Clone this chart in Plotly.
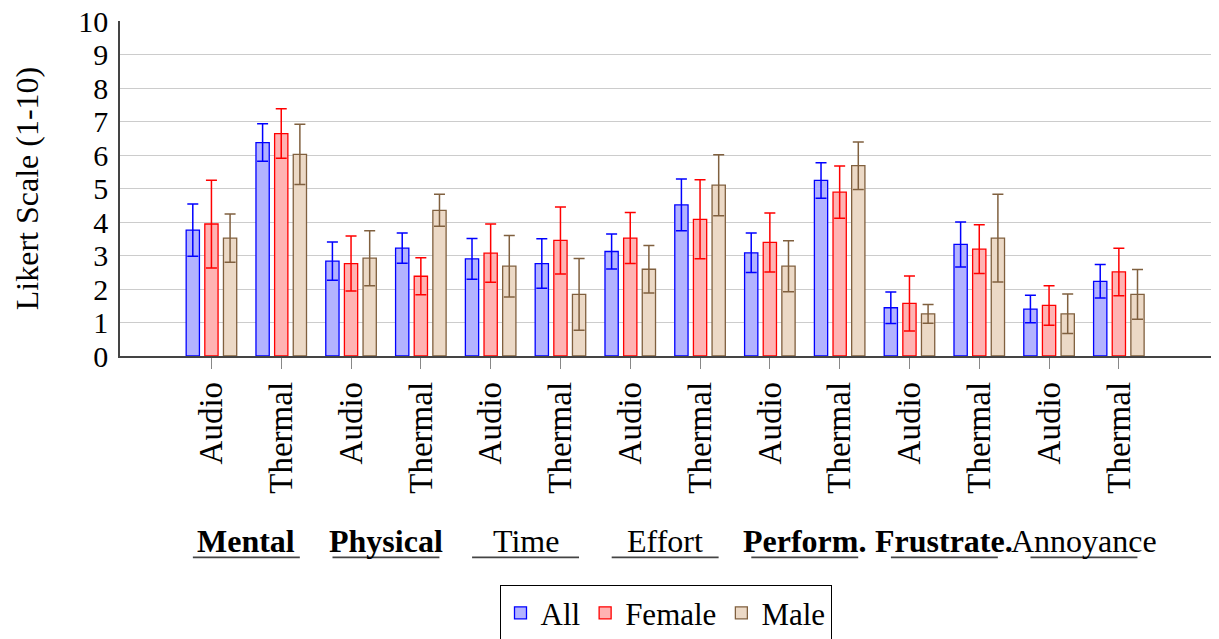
import plotly.graph_objects as go

# Conditions (x tick labels) and the workload dimensions they belong to
conditions = ["Audio", "Thermal"] * 7
dimensions = ["Mental", "Physical", "Time", "Effort", "Perform.", "Frustrate.", "Annoyance"]
bold_dims = {"Mental", "Physical", "Perform.", "Frustrate."}

# Mean ratings per condition (Likert 1-10)
all_mean = [3.76, 6.37, 2.83, 3.22, 2.90, 2.76, 3.12, 4.51, 3.08, 5.24, 1.44, 3.33, 1.40, 2.23]
female_mean = [3.94, 6.64, 2.76, 2.38, 3.07, 3.45, 3.52, 4.08, 3.39, 4.89, 1.57, 3.19, 1.51, 2.51]
male_mean = [3.52, 6.02, 2.92, 4.35, 2.68, 1.84, 2.59, 5.10, 2.68, 5.68, 1.26, 3.52, 1.26, 1.84]

# Error bar half-widths
all_err = [0.78, 0.56, 0.57, 0.45, 0.61, 0.74, 0.52, 0.77, 0.59, 0.53, 0.47, 0.67, 0.41, 0.50]
female_err = [1.31, 0.74, 0.82, 0.55, 0.87, 1.00, 0.76, 1.18, 0.88, 0.78, 0.82, 0.73, 0.59, 0.71]
male_err = [0.72, 0.90, 0.82, 0.48, 0.92, 1.07, 0.71, 0.91, 0.76, 0.71, 0.28, 1.31, 0.59, 0.74]

positions = list(range(len(conditions)))

series = [
    ("All", all_mean, all_err, "#b3b3ff", "#0000ff", -0.267),
    ("Female", female_mean, female_err, "#ffb3b3", "#ff0000", 0.0),
    ("Male", male_mean, male_err, "#ecd9c6", "#80603f", 0.267),
]

BAR_W = 0.19
SERIF = "Liberation Serif, Times New Roman, serif"

fig = go.Figure()
for name, mean, err, fill, edge, shift in series:
    fig.add_trace(go.Bar(
        name=name,
        x=positions,
        y=mean,
        width=BAR_W,
        offset=shift - BAR_W / 2,
        marker=dict(color=fill, line=dict(color=edge, width=1.3)),
        error_y=dict(type="data", array=err, visible=True,
                     color=edge, thickness=1.5, width=5.5),
    ))

# Dimension labels under each Audio/Thermal pair, with an underline
for i, dim in enumerate(dimensions):
    center = 2 * i + 0.5
    label = f"<b>{dim}</b>" if dim in bold_dims else dim
    fig.add_annotation(
        x=center, xref="x", y=-0.553, yref="paper",
        text=label, showarrow=False,
        font=dict(family=SERIF, size=32, color="black"),
        xanchor="center", yanchor="middle",
    )
    fig.add_shape(
        type="line", xref="x", yref="paper",
        x0=center - 0.766, x1=center + 0.766, y0=-0.601, y1=-0.601,
        line=dict(color="#444444", width=1.6),
    )

fig.update_layout(
    width=1219, height=639,
    margin=dict(l=120, r=8, t=21, b=283, autoexpand=False),
    plot_bgcolor="white", paper_bgcolor="white",
    barmode="overlay",
    font=dict(family=SERIF, color="black"),
    showlegend=True,
    legend=dict(
        orientation="h",
        x=0.5, xanchor="center",
        y=-0.684, yanchor="top",
        bordercolor="black", borderwidth=1,
        font=dict(family=SERIF, size=31, color="black"),
        itemwidth=30,
        tracegroupgap=0,
    ),
    xaxis=dict(
        range=[-1.31, 14.32],
        tickmode="array", tickvals=positions, ticktext=conditions,
        tickangle=-90,
        tickfont=dict(family=SERIF, size=33, color="black"),
        ticks="outside", ticklen=11, tickcolor="#888888", tickwidth=1,
        showline=True, linecolor="#444444", linewidth=1.5,
        showgrid=False, zeroline=False, automargin=False,
    ),
    yaxis=dict(
        range=[0, 10], dtick=1,
        tickfont=dict(family=SERIF, size=30, color="black"),
        showgrid=True, gridcolor="#cccccc", gridwidth=1,
        showline=True, linecolor="#444444", linewidth=1.5,
        ticks="", zeroline=False, automargin=False,
        ticklabelstandoff=4,
        title=dict(text="Likert Scale (1-10)", standoff=30,
                   font=dict(family=SERIF, size=32, color="black")),
    ),
)

fig.write_html("out.html")
